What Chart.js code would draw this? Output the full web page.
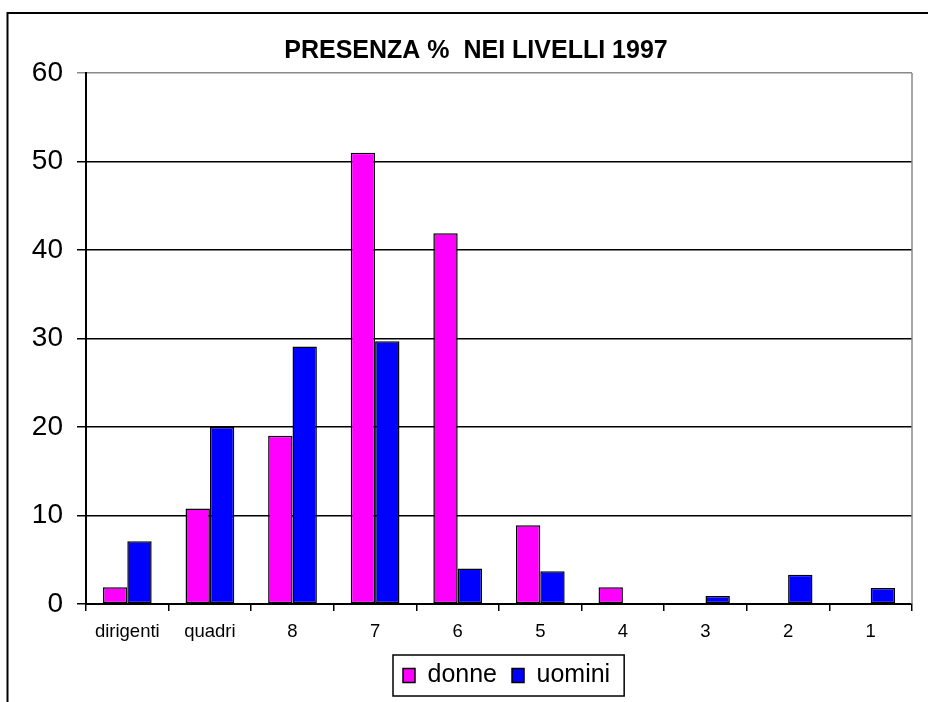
<!DOCTYPE html>
<html>
<head>
<meta charset="utf-8">
<script src="https://cdn.jsdelivr.net/npm/chart.js@4/dist/chart.umd.min.js"></script>
<style>
  html, body { margin: 0; padding: 0; background: #fff; }
  #wrap { position: relative; width: 928px; height: 702px; }
</style>
</head>
<body>
<div id="wrap"><canvas id="chart" width="928" height="702"></canvas></div>
<script>
const titleText = 'PRESENZA %  NEI LIVELLI 1997'
const categories = ['dirigenti', 'quadri', '8', '7', '6', '5', '4', '3', '2', '1']
const donne = [1.9, 10.8, 19.0, 51.0, 41.9, 8.9, 1.9, 0, 0, 0]
const uomini = [7.1, 20.0, 29.1, 29.7, 4.0, 3.7, 0, 0.9, 3.3, 1.8]
const yTicks = [0, 10, 20, 30, 40, 50, 60]

const font = "'Liberation Sans', Arial, sans-serif"

// outer frame, grey right edge of the plot and the box round the legend
const framePlugin = {
  id: 'frame',
  afterUpdate: (chart) => {
    // title sits a bit right of the canvas centre in the original
    const title = chart.titleBlock
    if (title) {
      title.left += 14
      title.right += 14
    }
    // and the legend further still
    const legend = chart.legend
    const hb = legend.legendHitBoxes
    if (!hb || !hb.length) return
    const dx = 403 - hb[0].left
    legend.left += dx
    legend.right += dx
    hb.forEach(h => { h.left += dx })
  },
  afterDraw: (chart) => {
    const ctx = chart.ctx
    const area = chart.chartArea
    ctx.save()
    ctx.strokeStyle = '#000'
    ctx.lineWidth = 2
    ctx.beginPath()
    ctx.moveTo(7.5, 702)
    ctx.lineTo(7.5, 13)
    ctx.lineTo(928, 13)
    ctx.stroke()

    ctx.strokeStyle = '#8a8a8a'
    ctx.lineWidth = 1.5
    ctx.beginPath()
    ctx.moveTo(area.right, area.top)
    ctx.lineTo(area.right, area.bottom)
    ctx.stroke()

    const hb = chart.legend.legendHitBoxes
    const first = hb[0]
    const last = hb[hb.length - 1]
    const x0 = first.left - 10
    const x1 = last.left + last.width + 14
    const y0 = first.top - 8
    const y1 = first.top + first.height + 8
    ctx.strokeStyle = '#000'
    ctx.lineWidth = 1.5
    ctx.strokeRect(x0, y0, x1 - x0, y1 - y0)
    ctx.restore()
  }
}

const ctx = document.getElementById('chart').getContext('2d')
const chart = new Chart(ctx, {
  type: 'bar',
  data: {
    labels: categories,
    datasets: [
      {
        label: 'donne',
        data: donne,
        backgroundColor: '#ff00ff',
        borderColor: '#000',
        borderWidth: 1.5,
        borderSkipped: false
      },
      {
        label: 'uomini',
        data: uomini,
        backgroundColor: '#0000ff',
        borderColor: '#000',
        borderWidth: 1.5,
        borderSkipped: false
      }
    ]
  },
  options: {
    responsive: false,
    animation: false,
    devicePixelRatio: 1,
    categoryPercentage: 0.59,
    barPercentage: 1,
    layout: { padding: { left: 12, right: 16, top: 0, bottom: 4 } },
    plugins: {
      tooltip: { enabled: false },
      title: {
        display: true,
        text: titleText,
        color: '#000',
        font: { family: font, size: 25, weight: 'bold' },
        padding: { top: 36, bottom: 7 }
      },
      legend: {
        position: 'bottom',
        labels: {
          color: '#000',
          font: { family: font, size: 25 },
          boxWidth: 12,
          boxHeight: 14,
          padding: 15,
          useBorderRadius: false
        }
      }
    },
    scales: {
      x: {
        offset: true,
        grid: {
          offset: true,
          drawOnChartArea: false,
          drawTicks: true,
          tickLength: 7,
          color: '#000',
          lineWidth: 1.5
        },
        border: { color: '#000', width: 2 },
        ticks: {
          color: '#000',
          font: { family: font, size: 18.5 },
          padding: 10,
          maxRotation: 0,
          autoSkip: false
        },
        afterFit: (scale) => { scale.height = 44 }
      },
      y: {
        min: 0,
        max: 60,
        afterBuildTicks: (scale) => { scale.ticks = yTicks.map(v => ({ value: v })) },
        grid: {
          color: (c) => c.tick && c.tick.value === 60 ? '#8a8a8a' : '#000',
          lineWidth: 1.5,
          tickLength: 9
        },
        border: { color: '#000', width: 2 },
        ticks: {
          color: '#000',
          font: { family: font, size: 28 },
          padding: 14
        },
        afterFit: (scale) => { scale.width = 74 }
      }
    }
  },
  plugins: [framePlugin]
})
</script>
</body>
</html>
